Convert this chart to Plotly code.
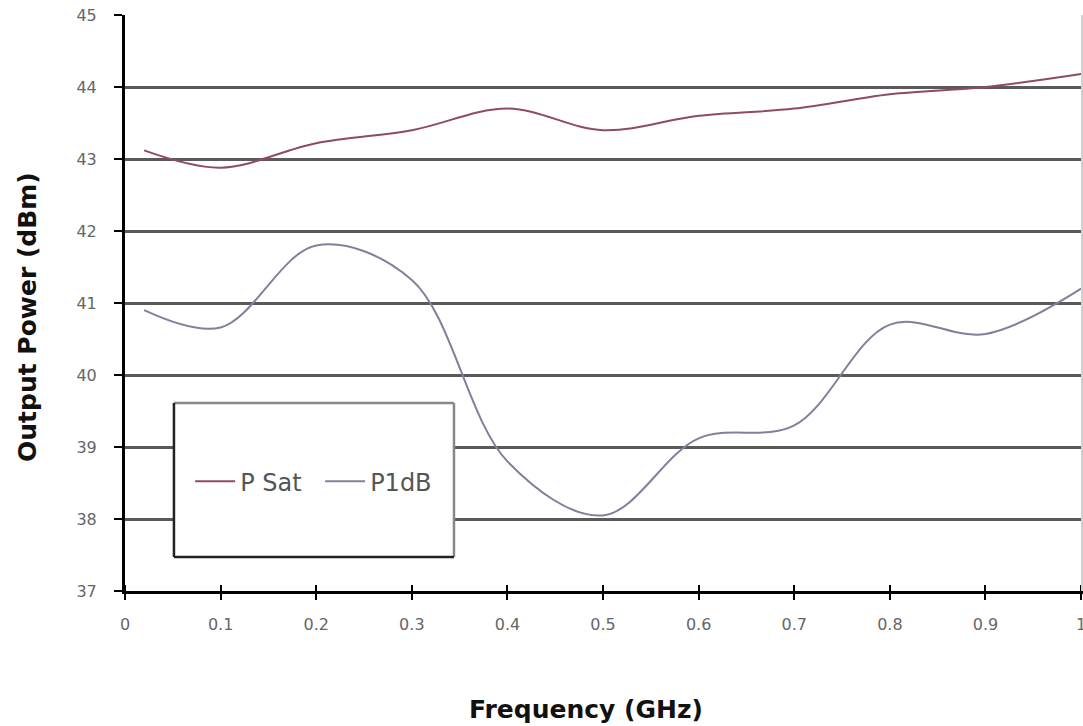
import plotly.graph_objects as go

freq = [0.02, 0.1, 0.2, 0.3, 0.4, 0.5, 0.6, 0.7, 0.8, 0.9, 1.0]
p_sat = [43.12, 42.88, 43.22, 43.40, 43.70, 43.40, 43.60, 43.70, 43.90, 44.00, 44.18]
p1db = [40.90, 40.66, 41.80, 41.32, 38.80, 38.05, 39.12, 39.30, 40.70, 40.57, 41.20]

x_ticks = [0, 0.1, 0.2, 0.3, 0.4, 0.5, 0.6, 0.7, 0.8, 0.9, 1]
x_labels = ["0", "0.1", "0.2", "0.3", "0.4", "0.5", "0.6", "0.7", "0.8", "0.9", "1"]
y_ticks = [37, 38, 39, 40, 41, 42, 43, 44, 45]

FONT = "DejaVu Sans"

fig = go.Figure()
fig.add_trace(go.Scatter(x=freq, y=p_sat, mode="lines", name="P Sat",
                         line=dict(color="#8E4A68", width=2, shape="spline", smoothing=1.0)))
fig.add_trace(go.Scatter(x=freq, y=p1db, mode="lines", name="P1dB",
                         line=dict(color="#80809C", width=2, shape="spline", smoothing=1.0)))

fig.update_layout(
    width=1083, height=726,
    margin=dict(l=125, r=0, t=15, b=135, autoexpand=False),
    paper_bgcolor="white", plot_bgcolor="white",
    font=dict(family=FONT, color="#555555"),
    showlegend=True,
    legend=dict(orientation="h", x=0.068, y=0.19, xanchor="left", yanchor="middle",
                bgcolor="rgba(0,0,0,0)", borderwidth=0,
                font=dict(family=FONT, size=24, color="#555555"),
                itemwidth=40, entrywidth=75, entrywidthmode="pixels"),
    xaxis=dict(range=[0, 1.002], tickmode="array", tickvals=x_ticks, ticktext=x_labels,
               showgrid=False, zeroline=False, automargin=False,
               showline=True, linecolor="black", linewidth=3,
               ticks="outside", ticklen=6, tickwidth=2, tickcolor="black",
               minor=dict(ticks="inside", tickvals=x_ticks, ticklen=6, tickwidth=2, tickcolor="black"),
               tickfont=dict(family=FONT, size=16, color="#666666"),
               ticklabelstandoff=11, ticklabeloverflow="allow"),
    yaxis=dict(range=[37, 45], tickmode="array", tickvals=y_ticks,
               showgrid=True, gridcolor="#5a5a5a", gridwidth=2.5, zeroline=False, automargin=False,
               showline=True, linecolor="black", linewidth=3,
               ticks="outside", ticklen=8, tickwidth=2, tickcolor="black",
               tickfont=dict(family=FONT, size=16, color="#666666"),
               ticklabelstandoff=14),
)

# right-edge light border
fig.add_shape(type="line", xref="paper", yref="paper", x0=0.999, x1=0.999, y0=0, y1=1,
              line=dict(color="#d0d0d0", width=2), layer="above")

# legend box
bx0, bx1, by0, by1 = 0.0511, 0.3434, 0.059, 0.3264
fig.add_shape(type="rect", xref="paper", yref="paper", x0=bx0, x1=bx1, y0=by0, y1=by1,
              fillcolor="white", line=dict(width=0), layer="above")
fig.add_shape(type="line", xref="paper", yref="paper", x0=bx0, x1=bx1, y0=by1, y1=by1,
              line=dict(color="#888888", width=2.5), layer="above")
fig.add_shape(type="line", xref="paper", yref="paper", x0=bx1, x1=bx1, y0=by0, y1=by1,
              line=dict(color="#888888", width=2.5), layer="above")
fig.add_shape(type="line", xref="paper", yref="paper", x0=bx0, x1=bx0, y0=by0, y1=by1,
              line=dict(color="#222222", width=2.5), layer="above")
fig.add_shape(type="line", xref="paper", yref="paper", x0=bx0, x1=bx1, y0=by0, y1=by0,
              line=dict(color="#222222", width=2.5), layer="above")

fig.add_annotation(text="<b>Frequency (GHz)</b>", xref="paper", yref="paper",
                   x=(586 - 125) / 958, y=(591 - 709) / 576, xanchor="center", yanchor="middle",
                   showarrow=False, font=dict(family=FONT, size=25, color="#111111"))
fig.add_annotation(text="<b>Output Power (dBm)</b>", xref="paper", yref="paper",
                   x=(27 - 125) / 958, y=(591 - 317) / 576, xanchor="center", yanchor="middle",
                   textangle=-90, showarrow=False, font=dict(family=FONT, size=25, color="#111111"))

fig.write_html("out.html", config={"displayModeBar": False},
               post_script="document.body.style.margin='0';document.body.style.padding='0';document.body.style.overflow='hidden';")
